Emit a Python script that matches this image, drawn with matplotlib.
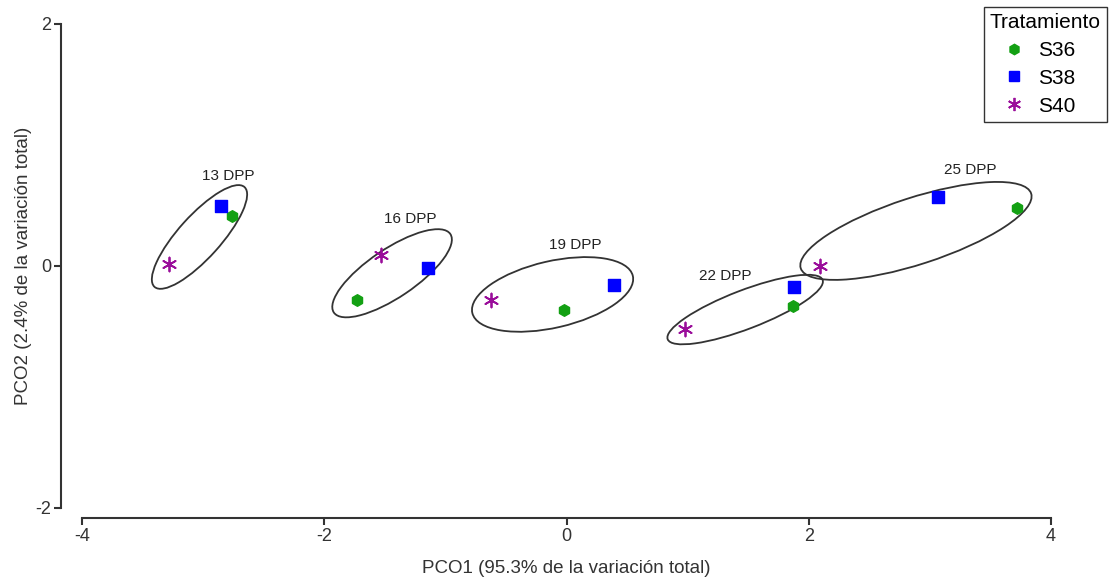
import matplotlib
matplotlib.use("Agg")
import matplotlib.pyplot as plt
from matplotlib.patches import Ellipse
from matplotlib.lines import Line2D

plt.rcParams['font.family'] = ['Liberation Sans', 'DejaVu Sans']
plt.rcParams['axes.unicode_minus'] = False

# PCO scores per treatment (13, 16, 19, 22, 25 DPP)
S36_X = [-2.76, -1.73, -0.02, 1.87, 3.72]
S36_Y = [0.41, -0.28, -0.36, -0.33, 0.48]
S38_X = [-2.85, -1.14, 0.39, 1.88, 3.07]
S38_Y = [0.50, -0.02, -0.16, -0.17, 0.57]
S40_X = [-3.28, -1.53, -0.62, 0.98, 2.09]
S40_Y = [0.02, 0.09, -0.28, -0.52, 0.00]

# grouping ellipses: label, center, width, height, angle
GROUPS = ['13 DPP', '16 DPP', '19 DPP', '22 DPP', '25 DPP']
ELL_CX = [-3.03, -1.44, -0.115, 1.475, 2.885]
ELL_CY = [0.24, -0.06, -0.235, -0.36, 0.29]
ELL_W = [1.11, 1.16, 1.36, 1.37, 2.00]
ELL_H = [0.35, 0.40, 0.55, 0.32, 0.55]
ELL_ANG = [48, 34, 13, 21, 18]
LABEL_X = [-2.79, -1.29, 0.07, 1.31, 3.33]
LABEL_Y = [0.74, 0.39, 0.17, -0.08, 0.79]

GREEN = '#13a013'
BLUE = '#0000ff'
PURPLE = '#9a0d9a'
DARK = '#333333'
ASTERISK = (6, 2, 0)

fig = plt.figure(figsize=(11.13, 5.80), dpi=100)
ax = fig.add_axes([82 / 1113, 1 - 508 / 580, 969 / 1113, 484 / 580])

for i in range(len(GROUPS)):
    ax.add_patch(Ellipse((ELL_CX[i], ELL_CY[i]), ELL_W[i], ELL_H[i], angle=ELL_ANG[i],
                         fill=False, edgecolor=DARK, lw=1.3))
    ax.text(LABEL_X[i], LABEL_Y[i], GROUPS[i], ha='center', va='center',
            fontsize=11, color='#222222')

ax.scatter(S36_X, S36_Y, marker='h', s=70, color=GREEN, zorder=3)
ax.scatter(S38_X, S38_Y, marker='s', s=70, color=BLUE, zorder=3)
ax.scatter(S40_X, S40_Y, marker=ASTERISK, s=100, color=PURPLE, linewidths=1.3, zorder=3)

ax.set_xlim(-4, 4)
ax.set_ylim(-2, 2)
ax.set_xticks([-4, -2, 0, 2, 4])
ax.set_yticks([-2, 0, 2])
ax.spines['top'].set_visible(False)
ax.spines['right'].set_visible(False)
ax.spines['left'].set_position(('outward', 15))
ax.spines['bottom'].set_position(('outward', 7.2))
for sp in ['left', 'bottom']:
    ax.spines[sp].set_color(DARK)
    ax.spines[sp].set_linewidth(1.5)
ax.tick_params(direction='out', length=5, width=1.5, color=DARK,
               labelsize=13, labelcolor=DARK, pad=2)

ax.set_xlabel('PCO1 (95.3% de la variación total)', fontsize=13.5, color=DARK)
ax.set_ylabel('PCO2 (2.4% de la variación total)', fontsize=13.5, color=DARK)
ax.xaxis.set_label_coords(0.5, -0.108)
ax.yaxis.set_label_coords(-0.052, 0.5)

handles = [
    Line2D([], [], ls='none', marker='h', ms=7.5, color=GREEN),
    Line2D([], [], ls='none', marker='s', ms=7.5, color=BLUE),
    Line2D([], [], ls='none', marker=ASTERISK, ms=9.5, mew=1.3, color=PURPLE),
]
leg = fig.legend(handles, ['S36', 'S38', 'S40'], title='Tratamiento',
                 loc='upper right', bbox_to_anchor=(1107 / 1113, 1 - 7 / 580),
                 fontsize=15, title_fontsize=15, frameon=True, fancybox=False,
                 handlelength=2.3, handletextpad=0.0, labelspacing=0.42,
                 borderpad=0.3, borderaxespad=0)
leg.get_frame().set_edgecolor('black')
leg.get_frame().set_linewidth(1.0)
leg._legend_box.align = 'left'

fig.savefig('out.png', dpi=100)
